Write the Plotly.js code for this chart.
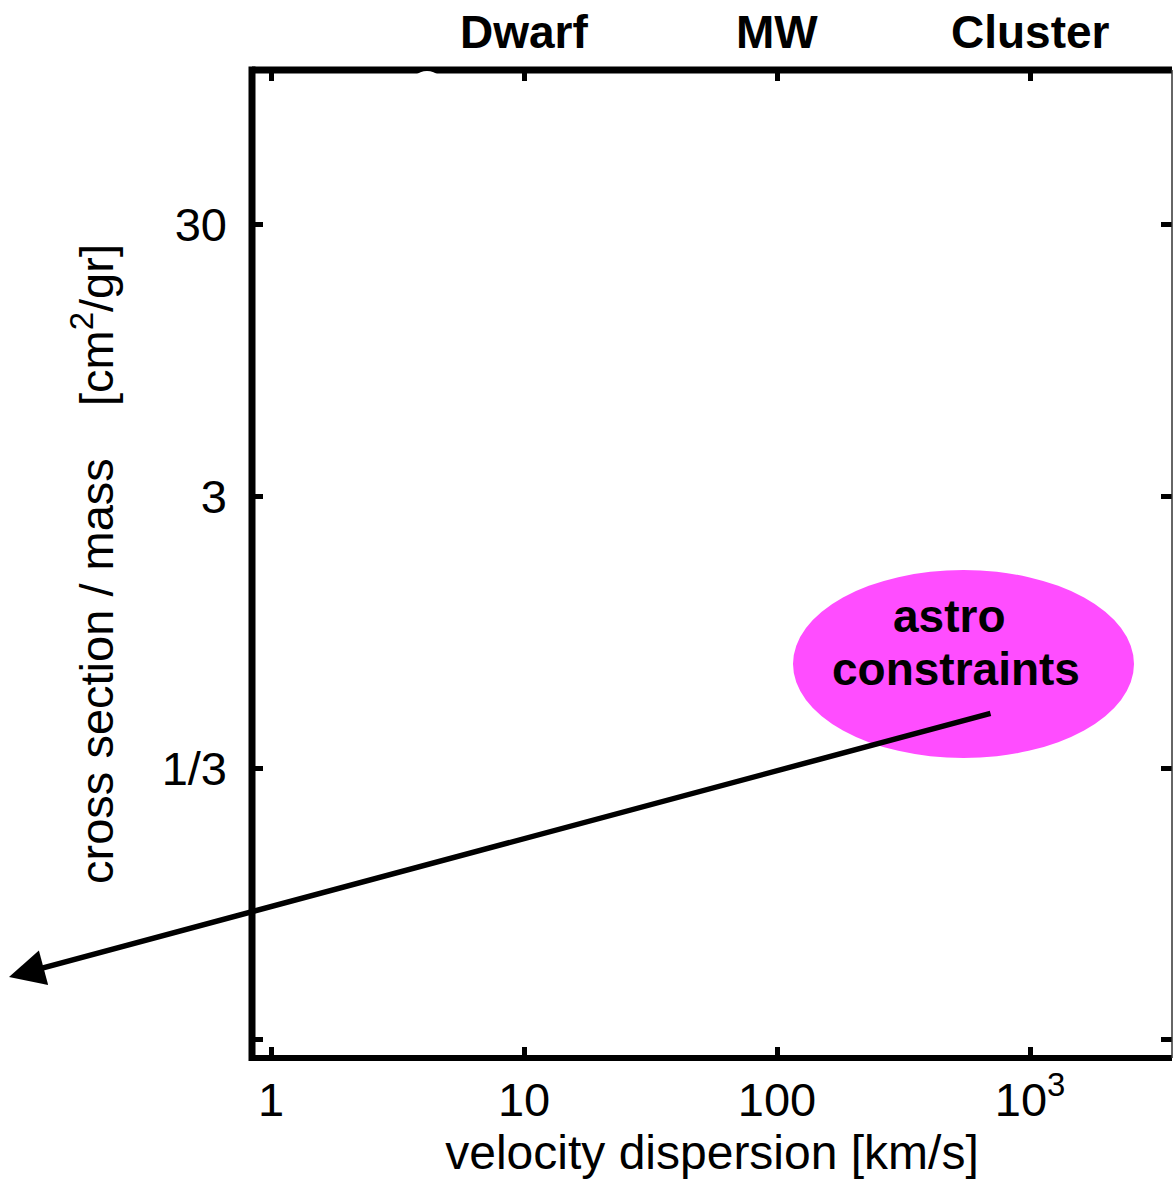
<!DOCTYPE html>
<html>
<head>
<meta charset="utf-8">
<script src="https://cdn.plot.ly/plotly-3.0.1.min.js"></script>
<style>
  html, body { margin: 0; padding: 0; background: #ffffff; }
  #chart { width: 1173px; height: 1179px; }
</style>
</head>
<body>
<div id="chart"></div>
<script>
// Axis ticks (velocity dispersion in km/s, cross section / mass in cm^2/gr)
const xTickVals = [1, 10, 100, 1000];
const xTickText = ['1', '10', '100', '10<sup>3</sup>'];
const yTickVals = [1 / 30, 1 / 3, 10 / 3, 100 / 3];
const yTickText = ['', '1/3', '3', '30'];

// Axis ranges (data units)
const xRange = [0.841, 3640];
const yRange = [0.02861, 124.0];

// System labels along the top, at their typical velocity dispersion
const systemNames = ['Dwarf', 'MW', 'Cluster'];
const systemVelocity = [10, 100, 1000];

// Callout text
const calloutLines = ['astro', 'constraints'];

const FONT = 'Liberation Sans, Arial, Helvetica, sans-serif';
const L = 252, R = 1172, T = 70, B = 1058, W = 1173, H = 1179;
const pw = R - L, ph = B - T;
const px = v => (v - L) / pw;           // pixel -> paper x
const py = v => (B - v) / ph;           // pixel -> paper y

const annotations = [];
systemNames.forEach((name, i) => {
  annotations.push({
    xref: 'x', yref: 'paper',
    x: Math.log10(systemVelocity[i]), y: py(32),
    text: '<b>' + name + '</b>', showarrow: false,
    xanchor: 'center', yanchor: 'middle',
    font: { family: FONT, size: 46, color: '#000' }
  });
});
annotations.push({
  xref: 'paper', yref: 'paper', x: px(949), y: py(616),
  text: '<b>' + calloutLines[0] + '</b>', showarrow: false,
  xanchor: 'center', yanchor: 'middle',
  font: { family: FONT, size: 46, color: '#000' }
});
annotations.push({
  xref: 'paper', yref: 'paper', x: px(956), y: py(669),
  text: '<b>' + calloutLines[1] + '</b>', showarrow: false,
  xanchor: 'center', yanchor: 'middle',
  font: { family: FONT, size: 46, color: '#000' }
});
// arrow from callout pointing out of the plot to lower-left
annotations.push({
  xref: 'paper', yref: 'paper', x: px(9), y: py(977),
  ax: 983, ay: -264, axref: 'pixel', ayref: 'pixel',
  text: '', showarrow: true,
  arrowhead: 2, arrowsize: 1.3, arrowwidth: 5.5, arrowcolor: '#000',
  standoff: 0, startstandoff: 0
});

const shapes = [
  // callout ellipse
  { type: 'circle', xref: 'paper', yref: 'paper',
    x0: px(793), x1: px(1134), y0: py(758), y1: py(570),
    fillcolor: '#ff4dff', line: { width: 0 }, layer: 'above' },
  // frame
  { type: 'line', xref: 'paper', yref: 'paper', x0: 0, x1: 0, y0: -0.003, y1: 1.0035,
    line: { color: '#000', width: 7 }, layer: 'above' },
  { type: 'line', xref: 'paper', yref: 'paper', x0: 0, x1: 1, y0: 1, y1: 1,
    line: { color: '#000', width: 7 }, layer: 'above' },
  { type: 'line', xref: 'paper', yref: 'paper', x0: 0, x1: 1, y0: 0, y1: 0,
    line: { color: '#000', width: 6 }, layer: 'above' },
  { type: 'line', xref: 'paper', yref: 'paper', x0: 1, x1: 1, y0: 0, y1: 1,
    line: { color: '#333', width: 1.5 }, layer: 'above' },
  // small white blot on the top border
  { type: 'circle', xref: 'paper', yref: 'paper',
    x0: px(410), x1: px(444), y0: py(105), y1: py(71),
    fillcolor: '#fff', line: { width: 0 }, layer: 'above' }
];

const layout = {
  width: W, height: H,
  margin: { l: L, r: W - R, t: T, b: H - B, pad: 0 },
  paper_bgcolor: '#fff', plot_bgcolor: '#fff',
  showlegend: false,
  font: { family: FONT, size: 46, color: '#000' },
  xaxis: {
    type: 'log', range: [Math.log10(xRange[0]), Math.log10(xRange[1])],
    tickmode: 'array', tickvals: xTickVals, ticktext: xTickText,
    ticks: 'inside', ticklen: 11, tickwidth: 5, tickcolor: '#000',
    mirror: 'ticks', showline: false, showgrid: false, zeroline: false,
    ticklabelstandoff: 10,
    tickfont: { family: FONT, size: 47, color: '#000' },
    title: { text: 'velocity dispersion [km/s]', standoff: 4,
             font: { family: FONT, size: 48, color: '#000' } },
    fixedrange: true
  },
  yaxis: {
    type: 'log', range: [Math.log10(yRange[0]), Math.log10(yRange[1])],
    tickmode: 'array', tickvals: yTickVals, ticktext: yTickText,
    ticks: 'inside', ticklen: 11, tickwidth: 5, tickcolor: '#000',
    mirror: 'ticks', showline: false, showgrid: false, zeroline: false,
    ticklabelstandoff: 24,
    tickfont: { family: FONT, size: 47, color: '#000' },
    title: { text: 'cross section / mass\u00a0\u00a0\u00a0 [cm<sup>2</sup>/gr]', standoff: 33,
             font: { family: FONT, size: 47, color: '#000' } },
    fixedrange: true
  },
  annotations: annotations,
  shapes: shapes
};

Plotly.newPlot('chart', [], layout, { displayModeBar: false, staticPlot: true });
</script>
</body>
</html>
